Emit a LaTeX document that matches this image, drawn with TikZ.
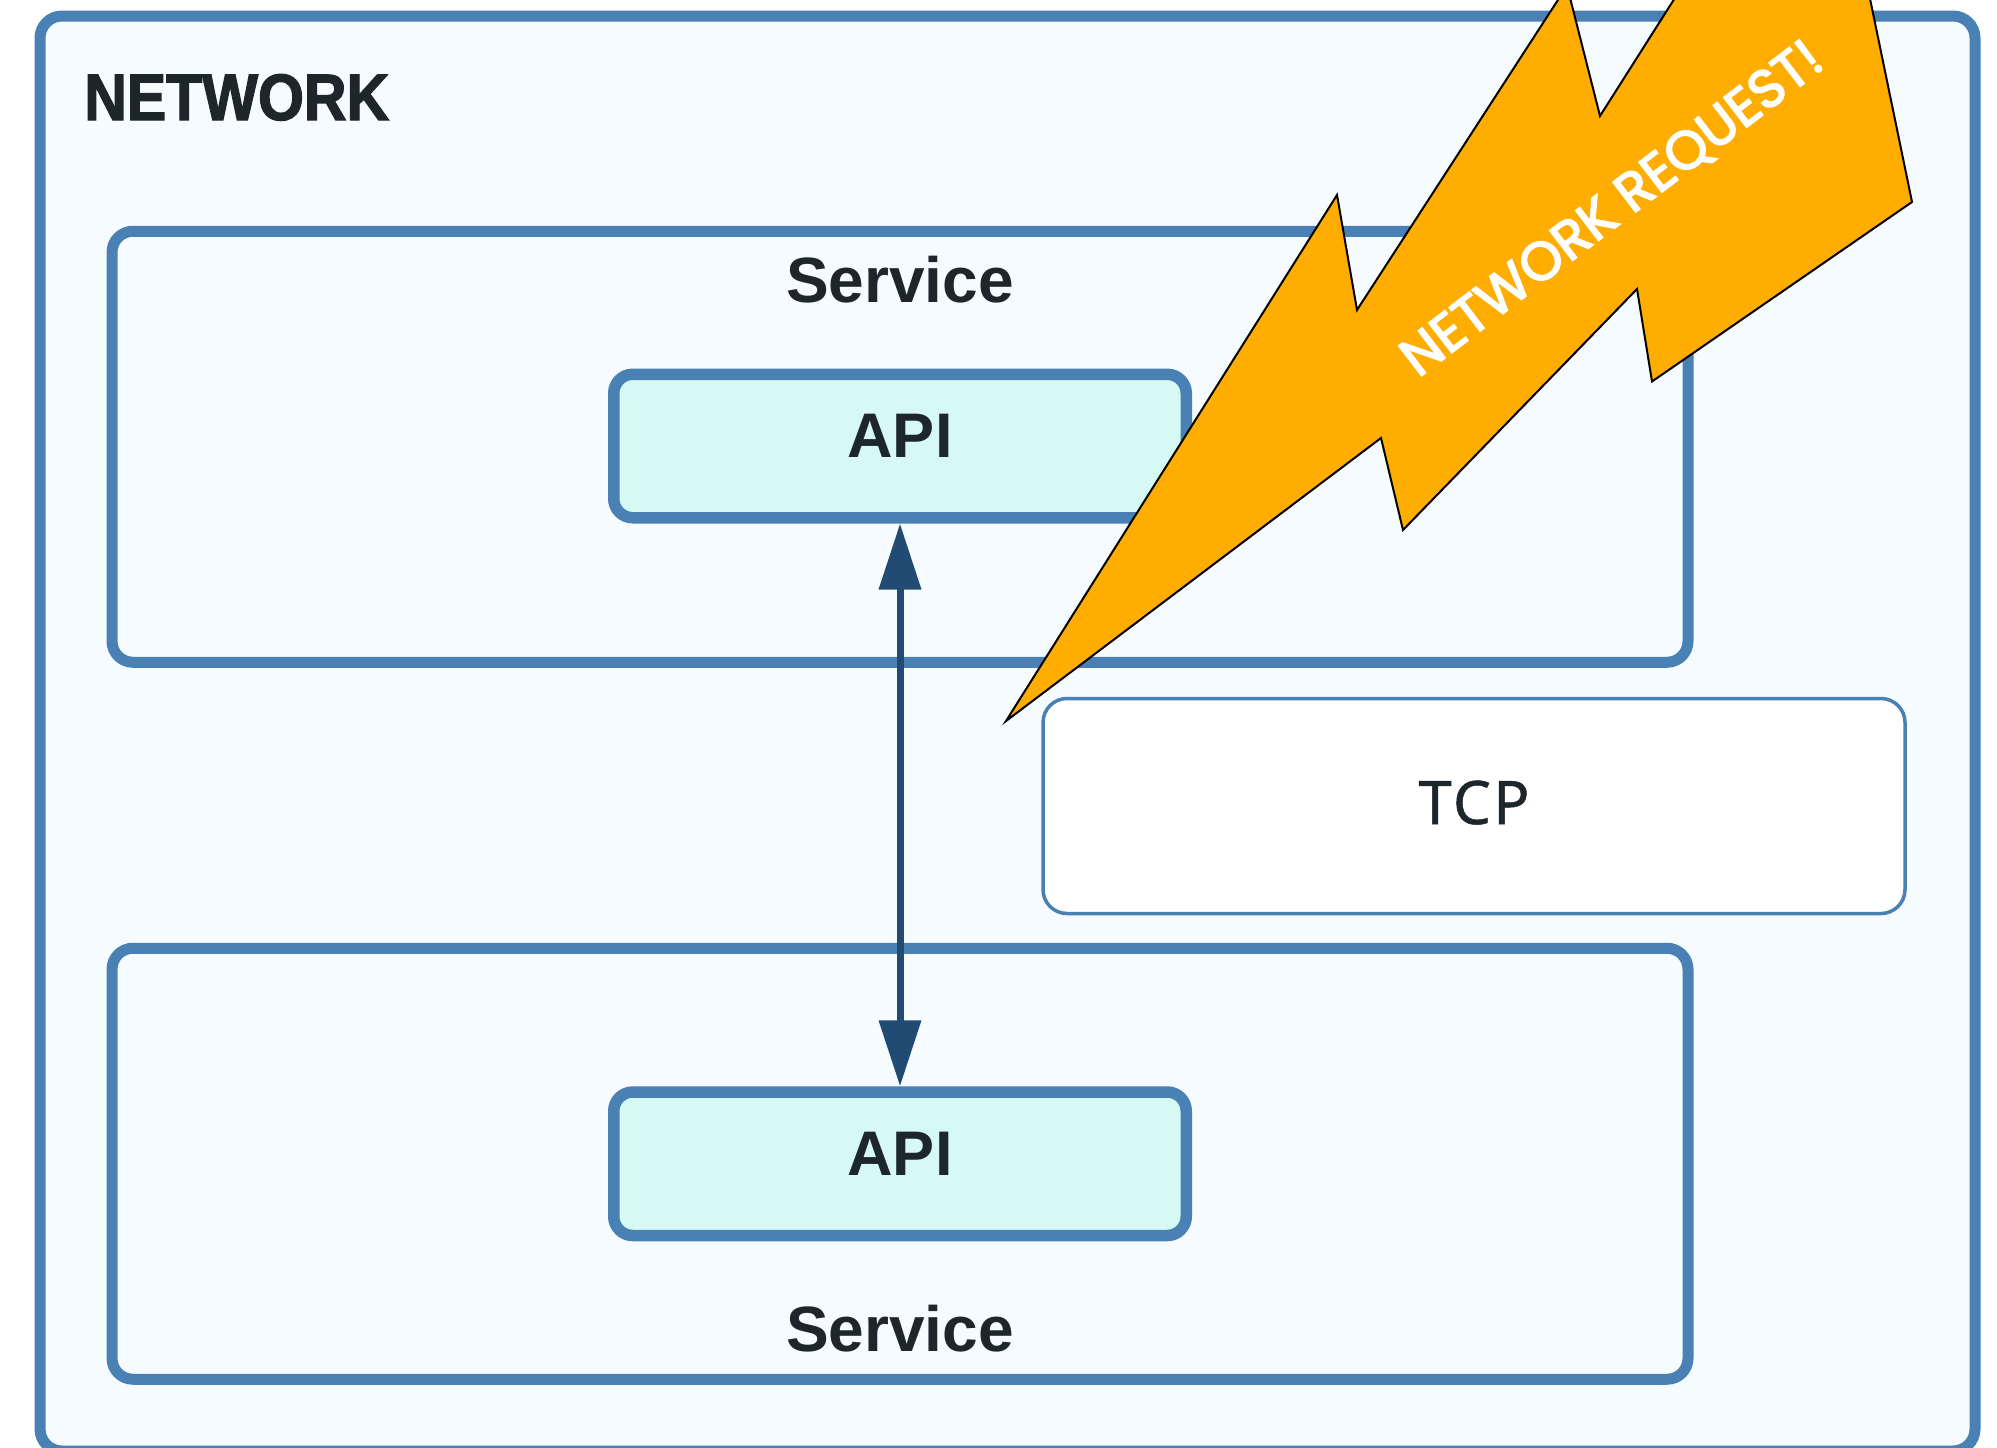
\documentclass[tikz,border=0pt]{standalone}
\usepackage{fontspec}
\setmainfont{Liberation Sans}
\newfontface\titlefont[FakeStretch=0.9,FakeBold=2]{Liberation Sans Bold}
\newfontface\boltfont[FakeBold=3]{Poppins}
\newfontface\tcpfont[LetterSpace=4,FakeBold=0.8]{Noto Sans}
\usetikzlibrary{arrows.meta}
\definecolor{edgeblue}{HTML}{4A81B5}
\definecolor{paleblue}{HTML}{F6FBFF}
\definecolor{mint}{HTML}{D6F9F3}
\definecolor{arrowblue}{HTML}{224B74}
\definecolor{inkdark}{HTML}{1D262B}
\definecolor{boltorange}{HTML}{FFAD00}
\tikzset{
	network/.style={rectangle,draw=edgeblue,fill=paleblue,line width=11pt,rounded corners=22pt,minimum width=1935pt,minimum height=1435pt},
	service/.style={rectangle,draw=edgeblue,fill=paleblue,line width=11pt,rounded corners=21pt,minimum width=1576pt,minimum height=431pt},
	api/.style={rectangle,draw=edgeblue,fill=mint,line width=11.5pt,rounded corners=19pt,minimum width=572.5pt,minimum height=143.5pt,text=inkdark,font=\fontsize{63}{63}\selectfont\bfseries,text height=45.6pt,text depth=22pt,inner sep=0pt},
	servicelabel/.style={anchor=base,text=inkdark,font=\fontsize{64}{64}\selectfont\bfseries,inner sep=0pt},
	tcp/.style={rectangle,draw=edgeblue,fill=white,line width=3.5pt,rounded corners=24pt,minimum width=862pt,minimum height=215pt,text=inkdark,text height=43pt,text depth=7pt,inner sep=0pt},
	link/.style={arrowblue,line width=7pt,{Triangle[length=66pt,width=41pt]}-{Triangle[length=66pt,width=41pt]}}
}
\begin{document}
\begin{tikzpicture}[x=1pt,y=-1pt]
	\useasboundingbox (0,0) rectangle (1997,1448);
	\clip (0,0) rectangle (1997,1448);
	\node[network] (net) at (1007.5,733.5) {};
	\node[anchor=base west,inner sep=0pt,text=inkdark,font=\titlefont\fontsize{65.6}{66}\selectfont] (nettitle) at (84,120) {NETWORK};
	\node[service] (serviceA) at (900,446.75) {};
	\node[service] (serviceB) at (900,1163.75) {};
	\node[servicelabel] (serviceAtext) at (900,302) {Service};
	\node[servicelabel] (serviceBtext) at (900,1351) {Service};
	\node[api] (apiA) at (900,446) {API};
	\node[api] (apiB) at (900,1163.75) {API};
	\node[tcp,font=\tcpfont\fontsize{60}{60}\selectfont] (tcpbox) at (1474,806) {TCP};
	\draw[link] (apiA.south) -- (apiB.north);
	% lightning bolt over everything
	\draw[fill=boltorange,draw=black,line width=2pt,line join=miter]
		(1006,721) -- (1337,195) -- (1357,310) -- (1567,-14) -- (1600,116) -- (1699,-40) -- (1862,-40)
		-- (1912,202) -- (1652,381.5) -- (1637,289) -- (1403,530) -- (1381,438) -- cycle;
	\node[rotate=37.4,text=white,inner sep=0pt,font=\boltfont\fontsize{54}{54}\selectfont] (bolttext) at (1613,210) {NETWORK REQUEST!};
\end{tikzpicture}
\end{document}
